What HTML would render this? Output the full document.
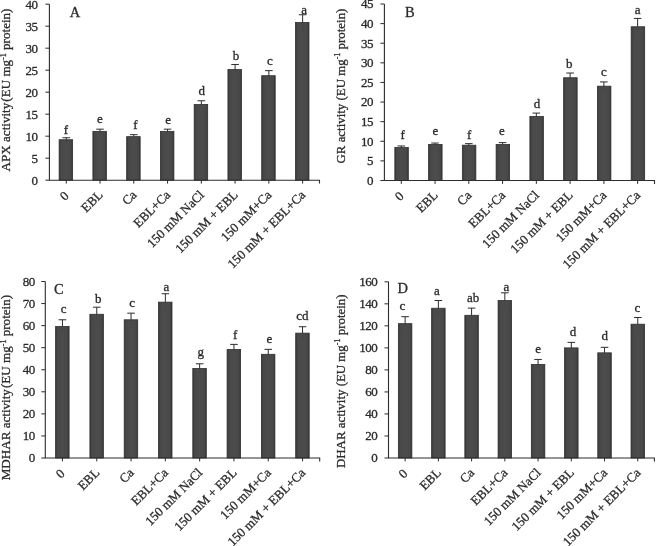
<!DOCTYPE html>
<html lang="en">
<head>
<meta charset="utf-8">
<title>Antioxidant enzyme activities</title>
<style>
html,body{margin:0;padding:0;background:#fff;}
body{width:658px;height:546px;overflow:hidden;}
svg{display:block;filter:grayscale(1);}
svg text{font-family:"Liberation Serif", "DejaVu Serif", serif;fill:#2b2b2b;stroke:#2b2b2b;stroke-width:0.3px;}
</style>
</head>
<body>
<svg width="658" height="546" viewBox="0 0 658 546">
<defs><linearGradient id="bg" x1="0" y1="0" x2="1" y2="0"><stop offset="0" stop-color="#363636"/><stop offset="0.14" stop-color="#484848"/><stop offset="0.5" stop-color="#4c4c4c"/><stop offset="0.86" stop-color="#484848"/><stop offset="1" stop-color="#363636"/></linearGradient></defs>
<rect width="658" height="546" fill="#ffffff"/>
<g id="panelA">
<rect x="59.13" y="139.72" width="13.50" height="40.48" fill="url(#bg)" stroke="#303030" stroke-width="0.8"/>
<path d="M66.28 137.74V139.72M62.48 137.74H70.08" stroke="#2c2c2c" stroke-width="1" fill="none"/>
<path d="M66.28 139.72V141.70" stroke="#262626" stroke-width="1" fill="none" opacity="0.12"/>
<text x="65.80" y="134.00" font-size="13" text-anchor="middle">f</text>
<path d="M66.28 180.20v3.4" stroke="#2c2c2c" stroke-width="1"/>
<text transform="translate(69.48 196.70) rotate(-45)" font-size="12.9" text-anchor="end">0</text>
<rect x="92.89" y="131.36" width="13.50" height="48.84" fill="url(#bg)" stroke="#303030" stroke-width="0.8"/>
<path d="M100.04 129.16V131.36M96.24 129.16H103.84" stroke="#2c2c2c" stroke-width="1" fill="none"/>
<path d="M100.04 131.36V133.56" stroke="#262626" stroke-width="1" fill="none" opacity="0.12"/>
<text x="100.00" y="123.00" font-size="13" text-anchor="middle">e</text>
<path d="M100.04 180.20v3.4" stroke="#2c2c2c" stroke-width="1"/>
<text transform="translate(103.54 195.70) rotate(-45)" font-size="12.9" text-anchor="end">EBL</text>
<rect x="126.66" y="136.64" width="13.50" height="43.56" fill="url(#bg)" stroke="#303030" stroke-width="0.8"/>
<path d="M133.81 134.66V136.64M130.01 134.66H137.61" stroke="#2c2c2c" stroke-width="1" fill="none"/>
<path d="M133.81 136.64V138.62" stroke="#262626" stroke-width="1" fill="none" opacity="0.12"/>
<text x="135.30" y="129.00" font-size="13" text-anchor="middle">f</text>
<path d="M133.81 180.20v3.4" stroke="#2c2c2c" stroke-width="1"/>
<text transform="translate(137.31 195.70) rotate(-45)" font-size="12.9" text-anchor="end">Ca</text>
<rect x="160.42" y="131.36" width="13.50" height="48.84" fill="url(#bg)" stroke="#303030" stroke-width="0.8"/>
<path d="M167.57 129.16V131.36M163.77 129.16H171.37" stroke="#2c2c2c" stroke-width="1" fill="none"/>
<path d="M167.57 131.36V133.56" stroke="#262626" stroke-width="1" fill="none" opacity="0.12"/>
<text x="168.20" y="124.10" font-size="13" text-anchor="middle">e</text>
<path d="M167.57 180.20v3.4" stroke="#2c2c2c" stroke-width="1"/>
<text transform="translate(171.07 195.70) rotate(-45)" font-size="12.9" text-anchor="end">EBL+Ca</text>
<rect x="194.18" y="104.52" width="13.50" height="75.68" fill="url(#bg)" stroke="#303030" stroke-width="0.8"/>
<path d="M201.33 100.78V104.52M197.53 100.78H205.13" stroke="#2c2c2c" stroke-width="1" fill="none"/>
<path d="M201.33 104.52V108.26" stroke="#262626" stroke-width="1" fill="none" opacity="0.12"/>
<text x="201.70" y="95.20" font-size="13" text-anchor="middle">d</text>
<path d="M201.33 180.20v3.4" stroke="#2c2c2c" stroke-width="1"/>
<text transform="translate(204.83 195.70) rotate(-45)" font-size="12.9" text-anchor="end">150 mM NaCl</text>
<rect x="227.94" y="69.54" width="13.50" height="110.66" fill="url(#bg)" stroke="#303030" stroke-width="0.8"/>
<path d="M235.09 64.48V69.54M231.29 64.48H238.89" stroke="#2c2c2c" stroke-width="1" fill="none"/>
<path d="M235.09 69.54V74.60" stroke="#262626" stroke-width="1" fill="none" opacity="0.12"/>
<text x="236.10" y="59.60" font-size="13" text-anchor="middle">b</text>
<path d="M235.09 180.20v3.4" stroke="#2c2c2c" stroke-width="1"/>
<text transform="translate(238.59 195.70) rotate(-45)" font-size="12.9" text-anchor="end">150 mM + EBL</text>
<rect x="261.71" y="75.70" width="13.50" height="104.50" fill="url(#bg)" stroke="#303030" stroke-width="0.8"/>
<path d="M268.86 70.64V75.70M265.06 70.64H272.66" stroke="#2c2c2c" stroke-width="1" fill="none"/>
<path d="M268.86 75.70V80.76" stroke="#262626" stroke-width="1" fill="none" opacity="0.12"/>
<text x="269.90" y="65.00" font-size="13" text-anchor="middle">c</text>
<path d="M268.86 180.20v3.4" stroke="#2c2c2c" stroke-width="1"/>
<text transform="translate(272.36 195.70) rotate(-45)" font-size="12.9" text-anchor="end">150 mM+Ca</text>
<rect x="295.47" y="22.46" width="13.50" height="157.74" fill="url(#bg)" stroke="#303030" stroke-width="0.8"/>
<path d="M302.62 14.76V22.46M298.82 14.76H306.42" stroke="#2c2c2c" stroke-width="1" fill="none"/>
<path d="M302.62 22.46V30.16" stroke="#262626" stroke-width="1" fill="none" opacity="0.12"/>
<text x="304.20" y="13.60" font-size="13" text-anchor="middle">a</text>
<path d="M302.62 180.20v3.4" stroke="#2c2c2c" stroke-width="1"/>
<text transform="translate(306.12 195.70) rotate(-45)" font-size="12.9" text-anchor="end">150 mM + EBL+Ca</text>
<path d="M49.40 4.20V180.20H319.50v3.4" stroke="#2c2c2c" stroke-width="1.1" fill="none"/>
<path d="M45.40 180.20H49.40" stroke="#2c2c2c" stroke-width="1"/>
<text x="37.60" y="184.50" font-size="13" letter-spacing="-0.5" text-anchor="end">0</text>
<path d="M45.40 158.20H49.40" stroke="#2c2c2c" stroke-width="1"/>
<text x="37.60" y="162.50" font-size="13" letter-spacing="-0.5" text-anchor="end">5</text>
<path d="M45.40 136.20H49.40" stroke="#2c2c2c" stroke-width="1"/>
<text x="37.60" y="140.50" font-size="13" letter-spacing="-0.5" text-anchor="end">10</text>
<path d="M45.40 114.20H49.40" stroke="#2c2c2c" stroke-width="1"/>
<text x="37.60" y="118.50" font-size="13" letter-spacing="-0.5" text-anchor="end">15</text>
<path d="M45.40 92.20H49.40" stroke="#2c2c2c" stroke-width="1"/>
<text x="37.60" y="96.50" font-size="13" letter-spacing="-0.5" text-anchor="end">20</text>
<path d="M45.40 70.20H49.40" stroke="#2c2c2c" stroke-width="1"/>
<text x="37.60" y="74.50" font-size="13" letter-spacing="-0.5" text-anchor="end">25</text>
<path d="M45.40 48.20H49.40" stroke="#2c2c2c" stroke-width="1"/>
<text x="37.60" y="52.50" font-size="13" letter-spacing="-0.5" text-anchor="end">30</text>
<path d="M45.40 26.20H49.40" stroke="#2c2c2c" stroke-width="1"/>
<text x="37.60" y="30.50" font-size="13" letter-spacing="-0.5" text-anchor="end">35</text>
<path d="M45.40 4.20H49.40" stroke="#2c2c2c" stroke-width="1"/>
<text x="37.60" y="8.50" font-size="13" letter-spacing="-0.5" text-anchor="end">40</text>
<text x="69.8" y="16.8" font-size="14.5">A</text>
<text transform="translate(10.0 171.4) rotate(-90)" font-size="13.08" text-anchor="start">APX activity<tspan dx="1.1">(EU mg</tspan><tspan font-size="8" dy="-4.5">-1</tspan><tspan dy="4.5"> protein)</tspan></text>
</g>
<g id="panelB">
<rect x="394.83" y="147.55" width="13.50" height="32.95" fill="url(#bg)" stroke="#303030" stroke-width="0.8"/>
<path d="M401.28 145.98V147.55M397.48 145.98H405.08" stroke="#2c2c2c" stroke-width="1" fill="none"/>
<path d="M401.28 147.55V149.12" stroke="#262626" stroke-width="1" fill="none" opacity="0.12"/>
<text x="402.60" y="139.00" font-size="13" text-anchor="middle">f</text>
<path d="M401.28 180.50v3.4" stroke="#2c2c2c" stroke-width="1"/>
<text transform="translate(404.48 197.00) rotate(-45)" font-size="12.9" text-anchor="end">0</text>
<rect x="428.59" y="144.42" width="13.50" height="36.08" fill="url(#bg)" stroke="#303030" stroke-width="0.8"/>
<path d="M435.04 143.04V144.42M431.24 143.04H438.84" stroke="#2c2c2c" stroke-width="1" fill="none"/>
<path d="M435.04 144.42V145.79" stroke="#262626" stroke-width="1" fill="none" opacity="0.12"/>
<text x="435.40" y="134.70" font-size="13" text-anchor="middle">e</text>
<path d="M435.04 180.50v3.4" stroke="#2c2c2c" stroke-width="1"/>
<text transform="translate(438.54 196.00) rotate(-45)" font-size="12.9" text-anchor="end">EBL</text>
<rect x="462.36" y="145.20" width="13.50" height="35.30" fill="url(#bg)" stroke="#303030" stroke-width="0.8"/>
<path d="M468.81 143.63V145.20M465.01 143.63H472.61" stroke="#2c2c2c" stroke-width="1" fill="none"/>
<path d="M468.81 145.20V146.77" stroke="#262626" stroke-width="1" fill="none" opacity="0.12"/>
<text x="469.10" y="138.80" font-size="13" text-anchor="middle">f</text>
<path d="M468.81 180.50v3.4" stroke="#2c2c2c" stroke-width="1"/>
<text transform="translate(472.31 196.00) rotate(-45)" font-size="12.9" text-anchor="end">Ca</text>
<rect x="496.12" y="144.42" width="13.50" height="36.08" fill="url(#bg)" stroke="#303030" stroke-width="0.8"/>
<path d="M502.57 142.61V144.42M498.77 142.61H506.37" stroke="#2c2c2c" stroke-width="1" fill="none"/>
<path d="M502.57 144.42V146.22" stroke="#262626" stroke-width="1" fill="none" opacity="0.12"/>
<text x="501.90" y="135.20" font-size="13" text-anchor="middle">e</text>
<path d="M502.57 180.50v3.4" stroke="#2c2c2c" stroke-width="1"/>
<text transform="translate(506.07 196.00) rotate(-45)" font-size="12.9" text-anchor="end">EBL+Ca</text>
<rect x="529.88" y="116.37" width="13.50" height="64.13" fill="url(#bg)" stroke="#303030" stroke-width="0.8"/>
<path d="M536.33 113.08V116.37M532.53 113.08H540.13" stroke="#2c2c2c" stroke-width="1" fill="none"/>
<path d="M536.33 116.37V119.67" stroke="#262626" stroke-width="1" fill="none" opacity="0.12"/>
<text x="537.00" y="108.10" font-size="13" text-anchor="middle">d</text>
<path d="M536.33 180.50v3.4" stroke="#2c2c2c" stroke-width="1"/>
<text transform="translate(539.83 196.00) rotate(-45)" font-size="12.9" text-anchor="end">150 mM NaCl</text>
<rect x="563.64" y="77.74" width="13.50" height="102.76" fill="url(#bg)" stroke="#303030" stroke-width="0.8"/>
<path d="M570.09 73.03V77.74M566.29 73.03H573.89" stroke="#2c2c2c" stroke-width="1" fill="none"/>
<path d="M570.09 77.74V82.44" stroke="#262626" stroke-width="1" fill="none" opacity="0.12"/>
<text x="569.20" y="68.40" font-size="13" text-anchor="middle">b</text>
<path d="M570.09 180.50v3.4" stroke="#2c2c2c" stroke-width="1"/>
<text transform="translate(573.59 196.00) rotate(-45)" font-size="12.9" text-anchor="end">150 mM + EBL</text>
<rect x="597.41" y="86.17" width="13.50" height="94.33" fill="url(#bg)" stroke="#303030" stroke-width="0.8"/>
<path d="M603.86 81.93V86.17M600.06 81.93H607.66" stroke="#2c2c2c" stroke-width="1" fill="none"/>
<path d="M603.86 86.17V90.41" stroke="#262626" stroke-width="1" fill="none" opacity="0.12"/>
<text x="604.00" y="76.00" font-size="13" text-anchor="middle">c</text>
<path d="M603.86 180.50v3.4" stroke="#2c2c2c" stroke-width="1"/>
<text transform="translate(607.36 196.00) rotate(-45)" font-size="12.9" text-anchor="end">150 mM+Ca</text>
<rect x="631.17" y="26.75" width="13.50" height="153.75" fill="url(#bg)" stroke="#303030" stroke-width="0.8"/>
<path d="M637.62 18.43V26.75M633.82 18.43H641.42" stroke="#2c2c2c" stroke-width="1" fill="none"/>
<path d="M637.62 26.75V35.06" stroke="#262626" stroke-width="1" fill="none" opacity="0.12"/>
<text x="637.60" y="14.40" font-size="13" text-anchor="middle">a</text>
<path d="M637.62 180.50v3.4" stroke="#2c2c2c" stroke-width="1"/>
<text transform="translate(641.12 196.00) rotate(-45)" font-size="12.9" text-anchor="end">150 mM + EBL+Ca</text>
<path d="M384.40 4.00V180.50H654.50v3.4" stroke="#2c2c2c" stroke-width="1.1" fill="none"/>
<path d="M380.40 180.50H384.40" stroke="#2c2c2c" stroke-width="1"/>
<text x="373.00" y="184.80" font-size="13" letter-spacing="-0.5" text-anchor="end">0</text>
<path d="M380.40 160.89H384.40" stroke="#2c2c2c" stroke-width="1"/>
<text x="373.00" y="165.19" font-size="13" letter-spacing="-0.5" text-anchor="end">5</text>
<path d="M380.40 141.28H384.40" stroke="#2c2c2c" stroke-width="1"/>
<text x="373.00" y="145.58" font-size="13" letter-spacing="-0.5" text-anchor="end">10</text>
<path d="M380.40 121.67H384.40" stroke="#2c2c2c" stroke-width="1"/>
<text x="373.00" y="125.97" font-size="13" letter-spacing="-0.5" text-anchor="end">15</text>
<path d="M380.40 102.06H384.40" stroke="#2c2c2c" stroke-width="1"/>
<text x="373.00" y="106.36" font-size="13" letter-spacing="-0.5" text-anchor="end">20</text>
<path d="M380.40 82.44H384.40" stroke="#2c2c2c" stroke-width="1"/>
<text x="373.00" y="86.74" font-size="13" letter-spacing="-0.5" text-anchor="end">25</text>
<path d="M380.40 62.83H384.40" stroke="#2c2c2c" stroke-width="1"/>
<text x="373.00" y="67.13" font-size="13" letter-spacing="-0.5" text-anchor="end">30</text>
<path d="M380.40 43.22H384.40" stroke="#2c2c2c" stroke-width="1"/>
<text x="373.00" y="47.52" font-size="13" letter-spacing="-0.5" text-anchor="end">35</text>
<path d="M380.40 23.61H384.40" stroke="#2c2c2c" stroke-width="1"/>
<text x="373.00" y="27.91" font-size="13" letter-spacing="-0.5" text-anchor="end">40</text>
<path d="M380.40 4.00H384.40" stroke="#2c2c2c" stroke-width="1"/>
<text x="373.00" y="8.30" font-size="13" letter-spacing="-0.5" text-anchor="end">45</text>
<text x="405" y="16.5" font-size="14.5">B</text>
<text transform="translate(344.8 163.5) rotate(-90)" font-size="12.9" text-anchor="start">GR activity <tspan dx="0">(EU mg</tspan><tspan font-size="8" dy="-4.5">-1</tspan><tspan dy="4.5"> protein)</tspan></text>
</g>
<g id="panelC">
<rect x="55.60" y="326.40" width="13.50" height="131.60" fill="url(#bg)" stroke="#303030" stroke-width="0.8"/>
<path d="M62.45 319.78V326.40M58.65 319.78H66.25" stroke="#2c2c2c" stroke-width="1" fill="none"/>
<path d="M62.45 326.40V333.02" stroke="#262626" stroke-width="1" fill="none" opacity="0.12"/>
<text x="63.60" y="313.20" font-size="13" text-anchor="middle">c</text>
<path d="M62.45 458.00v3.4" stroke="#2c2c2c" stroke-width="1"/>
<text transform="translate(65.65 474.50) rotate(-45)" font-size="12.9" text-anchor="end">0</text>
<rect x="89.90" y="314.26" width="13.50" height="143.74" fill="url(#bg)" stroke="#303030" stroke-width="0.8"/>
<path d="M96.75 307.20V314.26M92.95 307.20H100.55" stroke="#2c2c2c" stroke-width="1" fill="none"/>
<path d="M96.75 314.26V321.32" stroke="#262626" stroke-width="1" fill="none" opacity="0.12"/>
<text x="98.30" y="302.60" font-size="13" text-anchor="middle">b</text>
<path d="M96.75 458.00v3.4" stroke="#2c2c2c" stroke-width="1"/>
<text transform="translate(100.25 473.50) rotate(-45)" font-size="12.9" text-anchor="end">EBL</text>
<rect x="124.20" y="319.78" width="13.50" height="138.22" fill="url(#bg)" stroke="#303030" stroke-width="0.8"/>
<path d="M131.05 313.16V319.78M127.25 313.16H134.85" stroke="#2c2c2c" stroke-width="1" fill="none"/>
<path d="M131.05 319.78V326.40" stroke="#262626" stroke-width="1" fill="none" opacity="0.12"/>
<text x="132.20" y="306.90" font-size="13" text-anchor="middle">c</text>
<path d="M131.05 458.00v3.4" stroke="#2c2c2c" stroke-width="1"/>
<text transform="translate(134.55 473.50) rotate(-45)" font-size="12.9" text-anchor="end">Ca</text>
<rect x="158.50" y="302.13" width="13.50" height="155.87" fill="url(#bg)" stroke="#303030" stroke-width="0.8"/>
<path d="M165.35 293.74V302.13M161.55 293.74H169.15" stroke="#2c2c2c" stroke-width="1" fill="none"/>
<path d="M165.35 302.13V310.51" stroke="#262626" stroke-width="1" fill="none" opacity="0.12"/>
<text x="166.40" y="290.60" font-size="13" text-anchor="middle">a</text>
<path d="M165.35 458.00v3.4" stroke="#2c2c2c" stroke-width="1"/>
<text transform="translate(168.85 473.50) rotate(-45)" font-size="12.9" text-anchor="end">EBL+Ca</text>
<rect x="192.80" y="368.43" width="13.50" height="89.57" fill="url(#bg)" stroke="#303030" stroke-width="0.8"/>
<path d="M199.65 363.79V368.43M195.85 363.79H203.45" stroke="#2c2c2c" stroke-width="1" fill="none"/>
<path d="M199.65 368.43V373.06" stroke="#262626" stroke-width="1" fill="none" opacity="0.12"/>
<text x="200.80" y="356.30" font-size="13" text-anchor="middle">g</text>
<path d="M199.65 458.00v3.4" stroke="#2c2c2c" stroke-width="1"/>
<text transform="translate(203.15 473.50) rotate(-45)" font-size="12.9" text-anchor="end">150 mM NaCl</text>
<rect x="227.10" y="349.45" width="13.50" height="108.55" fill="url(#bg)" stroke="#303030" stroke-width="0.8"/>
<path d="M233.95 344.38V349.45M230.15 344.38H237.75" stroke="#2c2c2c" stroke-width="1" fill="none"/>
<path d="M233.95 349.45V354.53" stroke="#262626" stroke-width="1" fill="none" opacity="0.12"/>
<text x="235.10" y="338.50" font-size="13" text-anchor="middle">f</text>
<path d="M233.95 458.00v3.4" stroke="#2c2c2c" stroke-width="1"/>
<text transform="translate(237.45 473.50) rotate(-45)" font-size="12.9" text-anchor="end">150 mM + EBL</text>
<rect x="261.40" y="354.31" width="13.50" height="103.69" fill="url(#bg)" stroke="#303030" stroke-width="0.8"/>
<path d="M268.25 349.34V354.31M264.45 349.34H272.05" stroke="#2c2c2c" stroke-width="1" fill="none"/>
<path d="M268.25 354.31V359.27" stroke="#262626" stroke-width="1" fill="none" opacity="0.12"/>
<text x="269.50" y="343.40" font-size="13" text-anchor="middle">e</text>
<path d="M268.25 458.00v3.4" stroke="#2c2c2c" stroke-width="1"/>
<text transform="translate(271.75 473.50) rotate(-45)" font-size="12.9" text-anchor="end">150 mM+Ca</text>
<rect x="295.70" y="333.13" width="13.50" height="124.87" fill="url(#bg)" stroke="#303030" stroke-width="0.8"/>
<path d="M302.55 326.73V333.13M298.75 326.73H306.35" stroke="#2c2c2c" stroke-width="1" fill="none"/>
<path d="M302.55 333.13V339.52" stroke="#262626" stroke-width="1" fill="none" opacity="0.12"/>
<text x="302.40" y="320.40" font-size="13" text-anchor="middle">cd</text>
<path d="M302.55 458.00v3.4" stroke="#2c2c2c" stroke-width="1"/>
<text transform="translate(306.05 473.50) rotate(-45)" font-size="12.9" text-anchor="end">150 mM + EBL+Ca</text>
<path d="M45.30 281.50V458.00H319.70v3.4" stroke="#2c2c2c" stroke-width="1.1" fill="none"/>
<path d="M41.30 458.00H45.30" stroke="#2c2c2c" stroke-width="1"/>
<text x="34.70" y="462.30" font-size="13" letter-spacing="-0.5" text-anchor="end">0</text>
<path d="M41.30 435.94H45.30" stroke="#2c2c2c" stroke-width="1"/>
<text x="34.70" y="440.24" font-size="13" letter-spacing="-0.5" text-anchor="end">10</text>
<path d="M41.30 413.88H45.30" stroke="#2c2c2c" stroke-width="1"/>
<text x="34.70" y="418.18" font-size="13" letter-spacing="-0.5" text-anchor="end">20</text>
<path d="M41.30 391.81H45.30" stroke="#2c2c2c" stroke-width="1"/>
<text x="34.70" y="396.11" font-size="13" letter-spacing="-0.5" text-anchor="end">30</text>
<path d="M41.30 369.75H45.30" stroke="#2c2c2c" stroke-width="1"/>
<text x="34.70" y="374.05" font-size="13" letter-spacing="-0.5" text-anchor="end">40</text>
<path d="M41.30 347.69H45.30" stroke="#2c2c2c" stroke-width="1"/>
<text x="34.70" y="351.99" font-size="13" letter-spacing="-0.5" text-anchor="end">50</text>
<path d="M41.30 325.62H45.30" stroke="#2c2c2c" stroke-width="1"/>
<text x="34.70" y="329.93" font-size="13" letter-spacing="-0.5" text-anchor="end">60</text>
<path d="M41.30 303.56H45.30" stroke="#2c2c2c" stroke-width="1"/>
<text x="34.70" y="307.86" font-size="13" letter-spacing="-0.5" text-anchor="end">70</text>
<path d="M41.30 281.50H45.30" stroke="#2c2c2c" stroke-width="1"/>
<text x="34.70" y="285.80" font-size="13" letter-spacing="-0.5" text-anchor="end">80</text>
<text x="54" y="293.5" font-size="14.5">C</text>
<text transform="translate(10.2 480.3) rotate(-90)" font-size="13.08" text-anchor="start">MDHAR activity<tspan dx="1.1">(EU mg</tspan><tspan font-size="8" dy="-4.5">-1</tspan><tspan dy="4.5"> protein)</tspan></text>
</g>
<g id="panelD">
<rect x="398.37" y="323.65" width="13.50" height="134.35" fill="url(#bg)" stroke="#303030" stroke-width="0.8"/>
<path d="M405.12 316.71V323.65M401.32 316.71H408.92" stroke="#2c2c2c" stroke-width="1" fill="none"/>
<path d="M405.12 323.65V330.59" stroke="#262626" stroke-width="1" fill="none" opacity="0.12"/>
<text x="402.40" y="310.30" font-size="13" text-anchor="middle">c</text>
<path d="M405.12 458.00v3.4" stroke="#2c2c2c" stroke-width="1"/>
<text transform="translate(408.32 474.50) rotate(-45)" font-size="12.9" text-anchor="end">0</text>
<rect x="431.61" y="308.23" width="13.50" height="149.77" fill="url(#bg)" stroke="#303030" stroke-width="0.8"/>
<path d="M438.36 300.52V308.23M434.56 300.52H442.16" stroke="#2c2c2c" stroke-width="1" fill="none"/>
<path d="M438.36 308.23V315.94" stroke="#262626" stroke-width="1" fill="none" opacity="0.12"/>
<text x="437.00" y="294.70" font-size="13" text-anchor="middle">a</text>
<path d="M438.36 458.00v3.4" stroke="#2c2c2c" stroke-width="1"/>
<text transform="translate(441.86 473.50) rotate(-45)" font-size="12.9" text-anchor="end">EBL</text>
<rect x="464.84" y="315.28" width="13.50" height="142.72" fill="url(#bg)" stroke="#303030" stroke-width="0.8"/>
<path d="M471.59 308.12V315.28M467.79 308.12H475.39" stroke="#2c2c2c" stroke-width="1" fill="none"/>
<path d="M471.59 315.28V322.44" stroke="#262626" stroke-width="1" fill="none" opacity="0.12"/>
<text x="473.20" y="301.60" font-size="13" text-anchor="middle">ab</text>
<path d="M471.59 458.00v3.4" stroke="#2c2c2c" stroke-width="1"/>
<text transform="translate(475.09 473.50) rotate(-45)" font-size="12.9" text-anchor="end">Ca</text>
<rect x="498.08" y="300.52" width="13.50" height="157.48" fill="url(#bg)" stroke="#303030" stroke-width="0.8"/>
<path d="M504.83 292.81V300.52M501.03 292.81H508.63" stroke="#2c2c2c" stroke-width="1" fill="none"/>
<path d="M504.83 300.52V308.23" stroke="#262626" stroke-width="1" fill="none" opacity="0.12"/>
<text x="506.30" y="290.90" font-size="13" text-anchor="middle">a</text>
<path d="M504.83 458.00v3.4" stroke="#2c2c2c" stroke-width="1"/>
<text transform="translate(508.33 473.50) rotate(-45)" font-size="12.9" text-anchor="end">EBL+Ca</text>
<rect x="531.32" y="364.39" width="13.50" height="93.61" fill="url(#bg)" stroke="#303030" stroke-width="0.8"/>
<path d="M538.07 359.44V364.39M534.27 359.44H541.87" stroke="#2c2c2c" stroke-width="1" fill="none"/>
<path d="M538.07 364.39V369.35" stroke="#262626" stroke-width="1" fill="none" opacity="0.12"/>
<text x="538.10" y="353.20" font-size="13" text-anchor="middle">e</text>
<path d="M538.07 458.00v3.4" stroke="#2c2c2c" stroke-width="1"/>
<text transform="translate(541.57 473.50) rotate(-45)" font-size="12.9" text-anchor="end">150 mM NaCl</text>
<rect x="564.56" y="347.88" width="13.50" height="110.12" fill="url(#bg)" stroke="#303030" stroke-width="0.8"/>
<path d="M571.31 342.37V347.88M567.51 342.37H575.11" stroke="#2c2c2c" stroke-width="1" fill="none"/>
<path d="M571.31 347.88V353.38" stroke="#262626" stroke-width="1" fill="none" opacity="0.12"/>
<text x="573.00" y="335.80" font-size="13" text-anchor="middle">d</text>
<path d="M571.31 458.00v3.4" stroke="#2c2c2c" stroke-width="1"/>
<text transform="translate(574.81 473.50) rotate(-45)" font-size="12.9" text-anchor="end">150 mM + EBL</text>
<rect x="597.79" y="352.83" width="13.50" height="105.17" fill="url(#bg)" stroke="#303030" stroke-width="0.8"/>
<path d="M604.54 347.32V352.83M600.74 347.32H608.34" stroke="#2c2c2c" stroke-width="1" fill="none"/>
<path d="M604.54 352.83V358.34" stroke="#262626" stroke-width="1" fill="none" opacity="0.12"/>
<text x="604.70" y="340.10" font-size="13" text-anchor="middle">d</text>
<path d="M604.54 458.00v3.4" stroke="#2c2c2c" stroke-width="1"/>
<text transform="translate(608.04 473.50) rotate(-45)" font-size="12.9" text-anchor="end">150 mM+Ca</text>
<rect x="631.03" y="324.20" width="13.50" height="133.80" fill="url(#bg)" stroke="#303030" stroke-width="0.8"/>
<path d="M637.78 317.48V324.20M633.98 317.48H641.58" stroke="#2c2c2c" stroke-width="1" fill="none"/>
<path d="M637.78 324.20V330.92" stroke="#262626" stroke-width="1" fill="none" opacity="0.12"/>
<text x="637.50" y="311.80" font-size="13" text-anchor="middle">c</text>
<path d="M637.78 458.00v3.4" stroke="#2c2c2c" stroke-width="1"/>
<text transform="translate(641.28 473.50) rotate(-45)" font-size="12.9" text-anchor="end">150 mM + EBL+Ca</text>
<path d="M388.50 281.80V458.00H654.40v3.4" stroke="#2c2c2c" stroke-width="1.1" fill="none"/>
<path d="M384.50 458.00H388.50" stroke="#2c2c2c" stroke-width="1"/>
<text x="377.30" y="462.30" font-size="13" letter-spacing="-0.5" text-anchor="end">0</text>
<path d="M384.50 435.98H388.50" stroke="#2c2c2c" stroke-width="1"/>
<text x="377.30" y="440.28" font-size="13" letter-spacing="-0.5" text-anchor="end">20</text>
<path d="M384.50 413.95H388.50" stroke="#2c2c2c" stroke-width="1"/>
<text x="377.30" y="418.25" font-size="13" letter-spacing="-0.5" text-anchor="end">40</text>
<path d="M384.50 391.93H388.50" stroke="#2c2c2c" stroke-width="1"/>
<text x="377.30" y="396.23" font-size="13" letter-spacing="-0.5" text-anchor="end">60</text>
<path d="M384.50 369.90H388.50" stroke="#2c2c2c" stroke-width="1"/>
<text x="377.30" y="374.20" font-size="13" letter-spacing="-0.5" text-anchor="end">80</text>
<path d="M384.50 347.88H388.50" stroke="#2c2c2c" stroke-width="1"/>
<text x="377.30" y="352.18" font-size="13" letter-spacing="-0.5" text-anchor="end">100</text>
<path d="M384.50 325.85H388.50" stroke="#2c2c2c" stroke-width="1"/>
<text x="377.30" y="330.15" font-size="13" letter-spacing="-0.5" text-anchor="end">120</text>
<path d="M384.50 303.83H388.50" stroke="#2c2c2c" stroke-width="1"/>
<text x="377.30" y="308.13" font-size="13" letter-spacing="-0.5" text-anchor="end">140</text>
<path d="M384.50 281.80H388.50" stroke="#2c2c2c" stroke-width="1"/>
<text x="377.30" y="286.10" font-size="13" letter-spacing="-0.5" text-anchor="end">160</text>
<text x="397.5" y="293.2" font-size="14.5">D</text>
<text transform="translate(344.8 468.0) rotate(-90)" font-size="12.9" text-anchor="start">DHAR activity <tspan dx="0">(EU mg</tspan><tspan font-size="8" dy="-4.5">-1</tspan><tspan dy="4.5"> protein)</tspan></text>
</g>
</svg>
</body>
</html>
